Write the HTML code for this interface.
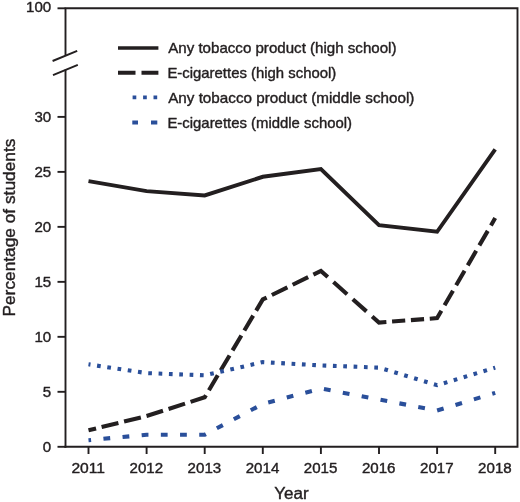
<!DOCTYPE html>
<html lang="en"><head><meta charset="utf-8"><title>Tobacco product use among students, 2011-2018</title>
<style>
html,body{margin:0;padding:0;background:#fff;}
body{width:520px;height:502px;overflow:hidden;}
svg{display:block;will-change:transform;}
text{font-family:"Liberation Sans",Arial,sans-serif;fill:#231f20;stroke:#231f20;stroke-width:0.4px;stroke-linejoin:round;}
.t{font-size:14.5px;}
.a{font-size:16px;}
</style></head><body>
<svg width="520" height="502" viewBox="0 0 520 502">
<g stroke="#231f20" stroke-width="1.9" fill="none" stroke-linecap="butt">
<path d="M65.5 55.2V8.3H517.5V446.8H64.5"/>
<path d="M65.5 69.6V447.8"/>
<path d="M52.6 61.0L77.2 50.8M53.0 75.2L77.8 64.8"/>
<path d="M57.5 446.80H65.5"/>
<path d="M57.5 391.81H65.5"/>
<path d="M57.5 336.83H65.5"/>
<path d="M57.5 281.85H65.5"/>
<path d="M57.5 226.86H65.5"/>
<path d="M57.5 171.88H65.5"/>
<path d="M57.5 116.89H65.5"/>
<path d="M57.5 8.3H65.5"/>
<path d="M88.50 446.8V454"/>
<path d="M146.60 446.8V454"/>
<path d="M204.70 446.8V454"/>
<path d="M262.80 446.8V454"/>
<path d="M320.90 446.8V454"/>
<path d="M379.00 446.8V454"/>
<path d="M437.10 446.8V454"/>
<path d="M495.20 446.8V454"/>
</g>
<text class="t" x="51.2" y="452.00" text-anchor="end" textLength="8.4" lengthAdjust="spacingAndGlyphs">0</text>
<text class="t" x="51.2" y="397.01" text-anchor="end" textLength="8.4" lengthAdjust="spacingAndGlyphs">5</text>
<text class="t" x="51.2" y="342.03" text-anchor="end" textLength="16.8" lengthAdjust="spacingAndGlyphs">10</text>
<text class="t" x="51.2" y="287.05" text-anchor="end" textLength="16.8" lengthAdjust="spacingAndGlyphs">15</text>
<text class="t" x="51.2" y="232.06" text-anchor="end" textLength="16.8" lengthAdjust="spacingAndGlyphs">20</text>
<text class="t" x="51.2" y="177.07" text-anchor="end" textLength="16.8" lengthAdjust="spacingAndGlyphs">25</text>
<text class="t" x="51.2" y="122.09" text-anchor="end" textLength="16.8" lengthAdjust="spacingAndGlyphs">30</text>
<text class="t" x="51.2" y="12.3" text-anchor="end" textLength="25.2" lengthAdjust="spacingAndGlyphs">100</text>
<text class="t" x="88.20" y="473.3" text-anchor="middle" textLength="33.6" lengthAdjust="spacingAndGlyphs">2011</text>
<text class="t" x="146.30" y="473.3" text-anchor="middle" textLength="33.6" lengthAdjust="spacingAndGlyphs">2012</text>
<text class="t" x="204.40" y="473.3" text-anchor="middle" textLength="33.6" lengthAdjust="spacingAndGlyphs">2013</text>
<text class="t" x="262.50" y="473.3" text-anchor="middle" textLength="33.6" lengthAdjust="spacingAndGlyphs">2014</text>
<text class="t" x="320.60" y="473.3" text-anchor="middle" textLength="33.6" lengthAdjust="spacingAndGlyphs">2015</text>
<text class="t" x="378.70" y="473.3" text-anchor="middle" textLength="33.6" lengthAdjust="spacingAndGlyphs">2016</text>
<text class="t" x="436.80" y="473.3" text-anchor="middle" textLength="33.6" lengthAdjust="spacingAndGlyphs">2017</text>
<text class="t" x="494.90" y="473.3" text-anchor="middle" textLength="33.6" lengthAdjust="spacingAndGlyphs">2018</text>
<text class="a" x="291.5" y="498.8" text-anchor="middle" textLength="34.4" lengthAdjust="spacingAndGlyphs">Year</text>
<text class="a" transform="translate(15.3 227.6) rotate(-90)" text-anchor="middle" textLength="177.9" lengthAdjust="spacingAndGlyphs">Percentage of students</text>
<g fill="none">
<path d="M118 48.0H158.4" stroke="#231f20" stroke-width="3.7"/>
<path d="M118 72.7H135.5M141.5 72.7H158.4" stroke="#231f20" stroke-width="3.9"/>
<path d="M132.6 97.4H136.3M143.1 97.4H146.8M153.5 97.4H157.2" stroke="#2a4f9a" stroke-width="3.7"/>
<path d="M132.3 122.5H138.0M151.0 122.5H157.3" stroke="#2a4f9a" stroke-width="3.8"/>
</g>
<text class="t" x="168.2" y="53.4" textLength="228.3" lengthAdjust="spacingAndGlyphs">Any tobacco product (high school)</text>
<text class="t" x="167.4" y="78.2" textLength="168.9" lengthAdjust="spacingAndGlyphs">E-cigarettes (high school)</text>
<text class="t" x="168.2" y="103.2" textLength="246.2" lengthAdjust="spacingAndGlyphs">Any tobacco product (middle school)</text>
<text class="t" x="167.4" y="127.8" textLength="184.7" lengthAdjust="spacingAndGlyphs">E-cigarettes (middle school)</text>
<g fill="none" stroke-linejoin="miter">
<polyline points="88.50,180.67 146.60,190.57 204.70,194.97 262.80,176.27 320.90,168.58 379.00,224.66 437.10,231.26 495.20,148.78" stroke="#231f20" stroke-width="3.9" transform="translate(0 0.5)"/>
<polyline points="88.50,430.30 146.60,416.01 204.70,397.31 262.80,299.44 320.90,270.85 379.00,322.53 437.10,318.14 495.20,218.06" stroke="#231f20" stroke-width="4.1" stroke-dasharray="7.80 5.70 17.30 5.83 17.30 5.83 17.30 5.83 17.30 5.83 17.30 5.83 17.30 5.83 17.30 5.83 17.30 5.83 17.30 5.83 17.30 5.83 17.30 5.83 17.30 5.83 17.58 7.60 18.30 7.60 18.30 7.60 16.56 5.70 13.20 5.70 13.20 5.70 15.89 6.30 16.80 6.30 16.80 6.30 16.80 6.30 16.80 6.30 14.51 50.00"/>
<polyline points="88.50,364.32 146.60,373.12 204.70,375.32 262.80,362.12 320.90,365.42 379.00,367.62 437.10,385.22 495.20,367.62" stroke="#2a4f9a" stroke-width="4.1" stroke-dasharray="3.7 6.65" stroke-dashoffset="1.7"/>
<polyline points="88.50,440.20 146.60,434.70 204.70,434.70 262.80,403.91 320.90,388.52 379.00,399.51 437.10,410.51 495.20,392.91" stroke="#2a4f9a" stroke-width="4.1" stroke-dasharray="6.8 12.4" stroke-dashoffset="4.2"/>
</g>
</svg></body></html>
